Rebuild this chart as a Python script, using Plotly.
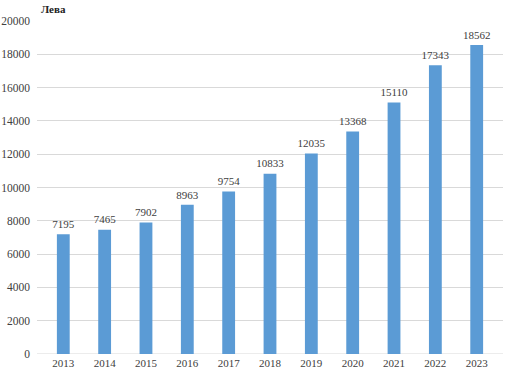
import plotly.graph_objects as go

years = ["2013", "2014", "2015", "2016", "2017", "2018", "2019", "2020", "2021", "2022", "2023"]
values = [7195, 7465, 7902, 8963, 9754, 10833, 12035, 13368, 15110, 17343, 18562]
y_ticks = list(range(0, 20001, 2000))

font_family = "Liberation Serif, Times New Roman, serif"

fig = go.Figure()
fig.add_trace(go.Bar(
    x=years, y=values,
    marker=dict(color="#5B9BD5", line=dict(width=0)),
    hoverinfo="skip",
))
fig.add_trace(go.Scatter(
    x=years, y=values, mode="markers+text",
    marker=dict(size=4, color="rgba(0,0,0,0)"),
    text=[str(v) for v in values],
    textposition="top center",
    textfont=dict(family=font_family, size=11, color="#404040"),
    cliponaxis=False,
    hoverinfo="skip",
))

fig.update_layout(
    width=511, height=376,
    margin=dict(l=37, r=8, t=21, b=22),
    paper_bgcolor="white", plot_bgcolor="white",
    bargap=0.69,
    showlegend=False,
    font=dict(family=font_family, size=11, color="#404040"),
    xaxis=dict(showgrid=False, showline=False, ticks="", tickfont=dict(size=11),
               ticklabelstandoff=1, automargin=False),
    yaxis=dict(range=[0, 20000], tickvals=y_ticks, ticktext=[str(t) for t in y_ticks],
               showgrid=True, gridcolor="#D9D9D9",
               gridwidth=1, zeroline=False, showline=False, ticks="", tickfont=dict(size=11.5),
               ticklabelstandoff=6, automargin=False),
    annotations=[dict(text="<b>Лева</b>", xref="paper", yref="paper", x=0.005, y=1.0,
                      yshift=4, xanchor="left", yanchor="bottom", showarrow=False,
                      font=dict(family=font_family, size=11, color="#222222"))],
)
fig.add_shape(type="line", xref="paper", yref="y", x0=0, x1=1, y0=0, y1=0,
              line=dict(color="#D9D9D9", width=1), layer="below")

fig.write_html("out.html",
               config={"displayModeBar": False},
               post_script="document.body.style.margin='0px';document.body.style.overflow='hidden';")
